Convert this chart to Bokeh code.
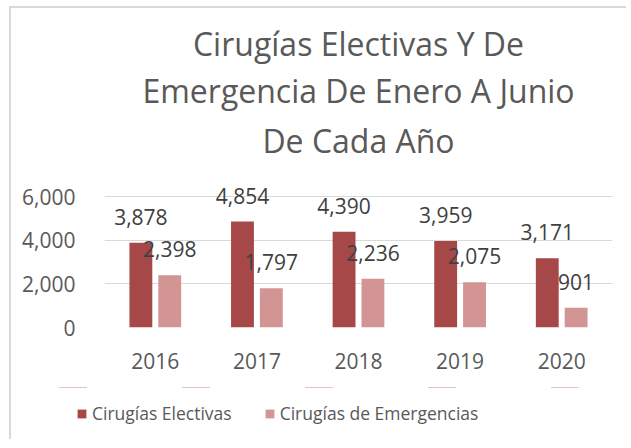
from bokeh.plotting import figure
from bokeh.layouts import column
from bokeh.models import (FactorRange, Range1d, ColumnDataSource, Title, Legend,
                          LegendItem, NumeralTickFormatter, FixedTicker, LabelSet)
from bokeh.core.properties import value
from bokeh.transform import dodge
from bokeh.embed import file_html
from bokeh.resources import INLINE

years = ["2016", "2017", "2018", "2019", "2020"]
electivas = [3878, 4854, 4390, 3959, 3171]
emergencias = [2398, 1797, 2236, 2075, 901]
series_names = ["Cirugías Electivas", "Cirugías de Emergencias"]
title_lines = ["Cirugías Electivas Y De", "Emergencia De Enero A Junio", "De Cada Año"]
y_ticks = [0, 2000, 4000, 6000]

FONT = "Open Sans"
DARK = "#A64848"
LIGHT = "#D39494"

src = ColumnDataSource(dict(
    x=years,
    e=electivas,
    m=emergencias,
    el=[f"{v:,}" for v in electivas],
    ml=[f"{v:,}" for v in emergencias],
))

# frame extends a bit above the 6,000 gridline so labels are not clipped
FH = 131
EXTRA = 30
p = figure(x_range=FactorRange(*years), y_range=Range1d(0, 6000 * (FH + EXTRA) / FH),
           frame_width=508, frame_height=FH + EXTRA, output_backend="svg", toolbar_location=None,
           min_border_left=93, min_border_right=14, min_border_top=158, min_border_bottom=60)
p.title = None
p.outline_line_color = None
p.background_fill_color = "white"
p.border_fill_color = "white"
p.frame_align = False

r1 = p.vbar(x=dodge("x", -0.142, range=p.x_range), top="e", width=0.225,
            source=src, fill_color=DARK, line_color=None)
r2 = p.vbar(x=dodge("x", 0.142, range=p.x_range), top="m", width=0.225,
            source=src, fill_color=LIGHT, line_color=None)

for col, lab, off in [("e", "el", -0.142), ("m", "ml", 0.142)]:
    ls = LabelSet(x=dodge("x", off, range=p.x_range), y=col, text=lab, source=src,
                  text_align="center", text_baseline="alphabetic", y_offset=18,
                  text_font=value(FONT), text_font_size=value("21px"), text_color="#404040")
    p.add_layout(ls)

p.yaxis.ticker = FixedTicker(ticks=y_ticks)
p.yaxis.formatter = NumeralTickFormatter(format="0,0")
for ax in (p.xaxis[0], p.yaxis[0]):
    ax.axis_line_color = None
    ax.major_tick_line_color = None
    ax.minor_tick_line_color = None
    ax.major_label_text_font = FONT
    ax.major_label_text_font_size = "21px"
    ax.major_label_text_color = "#595959"
p.yaxis.major_label_standoff = 23
p.xaxis.major_label_standoff = 19
p.xgrid.grid_line_color = None
p.ygrid.grid_line_color = "#D9D9D9"
p.ygrid.grid_line_width = 1

standoffs = [3, 0, 10]
for line, so in zip(reversed(title_lines), reversed(standoffs)):
    p.add_layout(Title(text=line, align="center", text_font=FONT,
                       text_font_size="32px", text_font_style="normal",
                       text_color="#595959", standoff=so, offset=-33), "above")

# legend strip: a second figure whose frame holds the legend;
# its bars lie far outside its y range, so only the legend swatches show
p2 = figure(x_range=FactorRange(*years), y_range=Range1d(-20000, -19999),
            width=615, height=52, output_backend="svg", toolbar_location=None,
            x_axis_location=None, y_axis_location=None,
            min_border_left=0, min_border_right=0, min_border_top=0, min_border_bottom=0)
p2.title = None
p2.outline_line_color = None
p2.xgrid.grid_line_color = None
p2.ygrid.grid_line_color = None
p2.frame_align = False
q1 = p2.vbar(x="x", top="e", width=0.225, source=src, fill_color=DARK, line_color=None)
q2 = p2.vbar(x="x", top="m", width=0.225, source=src, fill_color=LIGHT, line_color=None)

legend = Legend(items=[LegendItem(label=series_names[0], renderers=[q1]),
                       LegendItem(label=series_names[1], renderers=[q2])],
                orientation="horizontal", location=(65, 14),
                label_text_font=FONT, label_text_font_size="17.5px",
                label_text_color="#595959", glyph_width=11, glyph_height=11,
                label_standoff=5, spacing=32, border_line_color=None,
                background_fill_alpha=0, margin=0, padding=0)
p2.add_layout(legend, "center")

layout = column(p, p2, spacing=0)
layout.margin = (6, 0, 0, 9)
layout.styles = {"border-left": "2px solid #D9D9D9", "border-top": "2px solid #D9D9D9"}

open("out.html", "w").write(file_html(layout, INLINE))
